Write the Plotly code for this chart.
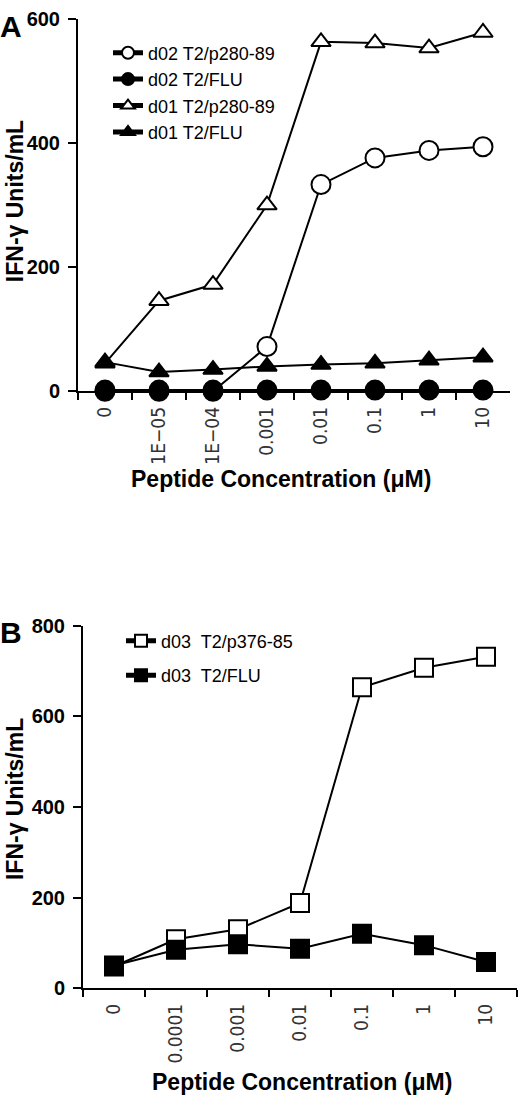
import plotly.graph_objects as go

# ---------------- data ----------------
conc_a = ["0", "1E\u221205", "1E\u221204", "0.001", "0.01", "0.1", "1", "10"]
d02_p280 = [0, 0, 0, 72, 333, 376, 388, 394]
d02_flu = [2, 2, 2, 2, 2, 2, 2, 2]
d01_p280 = [45, 146, 172, 300, 563, 561, 553, 578]
d01_flu = [47, 31, 35, 40, 43, 45, 50, 55]

conc_b = ["0", "0.0001", "0.001", "0.01", "0.1", "1", "10"]
d03_p376 = [48, 108, 130, 188, 664, 707, 731]
d03_flu = [50, 85, 97, 87, 120, 95, 58]

W, H = 520, 1109
BOLD = "Liberation Sans"
NARROW = "Liberation Sans Narrow, Arial Narrow, DejaVu Sans Condensed, sans-serif"

def px_x(v):
    return v / W

def px_y(v):
    return 1 - v / H

fig = go.Figure()

line = dict(color="black", width=2)

def add(x, y, name, symbol, fill, size, xa, ya, legend):
    fig.add_trace(go.Scatter(
        x=x, y=y, name=name, mode="lines+markers",
        line=line,
        marker=dict(symbol=symbol, size=size, color=fill,
                    line=dict(color="black", width=2)),
        xaxis=xa, yaxis=ya, cliponaxis=False, legend=legend,
        legendgroup=name,
    ))

add(conc_a, d02_p280, "d02 T2/p280-89", "circle", "white", 19, "x", "y", "legend")
add(conc_a, d02_flu, "d02 T2/FLU", "circle", "black", 19, "x", "y", "legend")
add(conc_a, d01_p280, "d01 T2/p280-89", "triangle-up", "white", 17, "x", "y", "legend")
add(conc_a, d01_flu, "d01 T2/FLU", "triangle-up", "black", 17, "x", "y", "legend")

add(conc_b, d03_p376, "d03  T2/p376-85", "square", "white", 18, "x2", "y2", "legend2")
add(conc_b, d03_flu, "d03  T2/FLU", "square", "black", 18, "x2", "y2", "legend2")

xaxis_common = dict(
    type="category", showline=True, linecolor="black", linewidth=2,
    ticks="outside", tickson="boundaries", ticklen=7, tickwidth=2,
    tickcolor="black", tickangle=-90, showgrid=False, zeroline=False,
    ticklabelstandoff=6,
    tickfont=dict(family=NARROW, size=19, color="#333"),
)
yaxis_common = dict(
    showline=True, linecolor="black", linewidth=2, ticks="outside",
    ticklen=8, tickwidth=2, tickcolor="black", showgrid=False,
    zeroline=False, ticklabelstandoff=4,
    tickfont=dict(family=BOLD, size=20, color="black", weight=700),
)

fig.update_layout(
    width=W, height=H, margin=dict(l=0, r=0, t=0, b=0),
    paper_bgcolor="white", plot_bgcolor="white",
    xaxis=dict(xaxis_common, domain=[px_x(78), px_x(510)], anchor="y",
               range=[-0.5, 7.5]),
    yaxis=dict(yaxis_common, domain=[px_y(388), px_y(8)], anchor="x",
               range=[0, 600], tickvals=[0, 200, 400, 600]),
    xaxis2=dict(xaxis_common, domain=[px_x(83), px_x(517)], anchor="y2",
                range=[-0.5, 6.5]),
    yaxis2=dict(yaxis_common, domain=[px_y(997), px_y(627)], anchor="x2",
                range=[0, 800], tickvals=[0, 200, 400, 600, 800]),
    legend=dict(x=px_x(108), y=px_y(24), xanchor="left", yanchor="top",
                font=dict(family=BOLD, size=18, color="black"),
                bgcolor="rgba(0,0,0,0)", itemsizing="constant",
                traceorder="grouped", tracegroupgap=0),
    legend2=dict(x=px_x(121), y=px_y(624), xanchor="left", yanchor="top",
                 font=dict(family=BOLD, size=18, color="black"),
                 bgcolor="rgba(0,0,0,0)", itemsizing="constant",
                 traceorder="grouped", tracegroupgap=8),
    showlegend=True,
)

ann_font_title = dict(family=BOLD, size=23, color="black", weight="bold")
annotations = [
    dict(text="A", x=px_x(11), y=px_y(16), font=dict(family=BOLD, size=30, color="black", weight="bold")),
    dict(text="B", x=px_x(11), y=px_y(634), font=dict(family=BOLD, size=30, color="black", weight="bold")),
    dict(text="IFN-\u03b3 Units/mL", x=px_x(15), y=px_y(194), textangle=-90, font=ann_font_title),
    dict(text="IFN-\u03b3 Units/mL", x=px_x(15), y=px_y(804), textangle=-90, font=ann_font_title),
    dict(text="Peptide Concentration (\u03bcM)", x=px_x(281), y=px_y(477), font=ann_font_title),
    dict(text="Peptide Concentration (\u03bcM)", x=px_x(302), y=px_y(1093), font=ann_font_title),
]
for a in annotations:
    a.update(xref="paper", yref="paper", showarrow=False,
             xanchor="center", yanchor="middle")
fig.update_layout(annotations=annotations)

fig.write_html("out.html", config={"displayModeBar": False},
               post_script="document.body.style.margin='0';")
